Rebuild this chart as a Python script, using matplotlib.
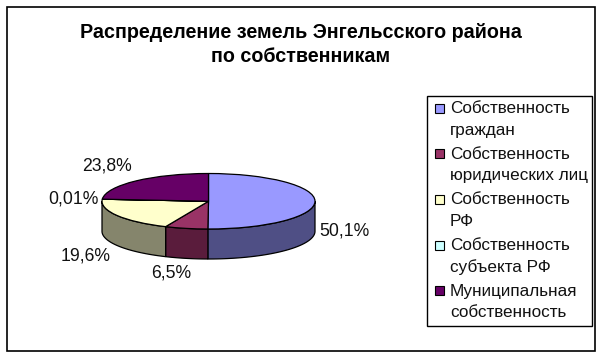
import numpy as np
import matplotlib
matplotlib.use('Agg')
import matplotlib.pyplot as plt
from matplotlib.patches import Rectangle, Polygon

plt.rcParams['font.family'] = ['Liberation Sans', 'DejaVu Sans']

W, H = 603, 357

title = 'Распределение земель Энгельсского района\nпо собственникам'
shares = [50.1, 6.5, 19.6, 0.01, 23.8]
share_labels = ['50,1%', '6,5%', '19,6%', '0,01%', '23,8%']
legend_labels = [
    'Собственность\nграждан',
    'Собственность\nюридических лиц',
    'Собственность\nРФ',
    'Собственность\nсубъекта РФ',
    'Муниципальная\nсобственность',
]
top_colors = ['#9999ff', '#993366', '#ffffcc', '#ccffff', '#660066']
side_colors = ['#4f4f85', '#5a1c3c', '#85856c', '#6a8585', '#350035']

# where the percent labels sit, in pixels
label_pos = [(344.5, 231), (171.5, 273), (86, 256), (73, 198.5), (107, 166)]
legend_rows = [108, 153.5, 199, 245, 290.5]

fig = plt.figure(figsize=(W / 100, H / 100), dpi=100, facecolor='white')

# overlay in pixel coordinates for frame, title and legend
bg = fig.add_axes([0, 0, 1, 1])
bg.set_xlim(0, W)
bg.set_ylim(H, 0)
bg.axis('off')
bg.add_patch(Rectangle((6.5, 6.5), 588.5, 344, fill=False, ec='black', lw=1.2))
bg.text(300.5, 44.5, title, ha='center', va='center', fontsize=14.2, fontweight='bold',
        linespacing=1.4, color='black')

bg.add_patch(Rectangle((426.5, 95.5), 165.5, 230, fill=False, ec='black', lw=1))
for y, label, color in zip(legend_rows, legend_labels, top_colors):
    bg.add_patch(Rectangle((434.5, y - 4.5), 9, 9, fc=color, ec='black', lw=0.8))
    bg.text(450, y + 11.5, label, ha='left', va='center', fontsize=12.3, linespacing=1.55, color='#111111')

for (x, y), label in zip(label_pos, share_labels):
    bg.text(x, y, label, ha='center', va='center', fontsize=12.7, color='#111111')

# pie, squeezed to an ellipse by the axes shape
left, right, top, bottom, depth = 102, 315, 173.5, 229, 30
ax = fig.add_axes([left / W, 1 - (bottom + depth) / H, (right - left) / W, (bottom + depth - top) / H])
ax.patch.set_alpha(0)
wedges, _ = ax.pie(shares, colors=top_colors, startangle=90, counterclock=False, radius=1,
                   wedgeprops={'edgecolor': 'black', 'linewidth': 0.9, 'clip_on': False, 'zorder': 3})
ax.set_aspect('auto')
d = depth / ((bottom - top) / 2)
ax.set_xlim(-1, 1)
ax.set_ylim(-1 - d, 1)

# side wall: only the front half of the rim (90..270 degrees clockwise from the top)
ends = np.cumsum(shares) / sum(shares) * 360
starts = np.concatenate([[0], ends[:-1]])
for a, b, color in zip(starts, ends, side_colors):
    a, b = max(a, 90), min(b, 270)
    if b <= a:
        continue
    t = np.radians(np.linspace(a, b, 60))
    xs, ys = np.sin(t), np.cos(t)
    pts = np.column_stack([np.r_[xs, xs[::-1]], np.r_[ys, ys[::-1] - d]])
    ax.add_patch(Polygon(pts, closed=True, fc=color, ec='black', lw=0.9, clip_on=False, zorder=2))

fig.savefig('out.png', dpi=100)
